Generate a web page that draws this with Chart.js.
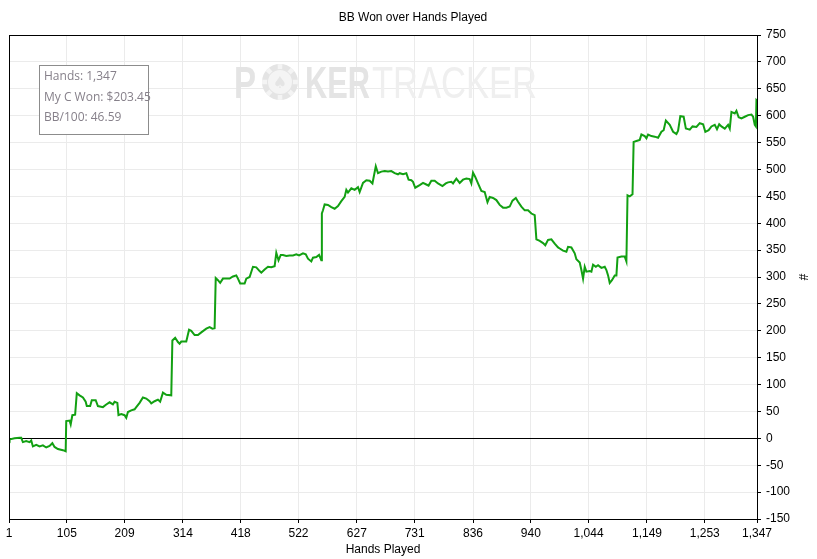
<!DOCTYPE html>
<html>
<head>
<meta charset="utf-8">
<title>BB Won over Hands Played</title>
<script src="https://cdn.jsdelivr.net/npm/chart.js@4/dist/chart.umd.min.js"></script>
<style>
  html, body { margin: 0; padding: 0; background: #fff; }
  #wrap { width: 817px; height: 559px; position: relative; }
</style>
</head>
<body>
<div id="wrap"><canvas id="graf"></canvas></div>
<script>
// manos jugadas (eje X) y BB ganadas acumuladas (eje Y)
const hands = [
  1, 2, 11, 20, 23, 26, 32, 38, 41, 44, 50, 56, 62, 68, 74, 79, 83, 89, 98, 103,
  104, 110, 112, 115, 120, 123, 128, 134, 139, 141, 147, 150, 157, 161, 170, 176, 182, 188, 191, 196,
  198, 203, 209, 212, 215, 221, 227, 230, 236, 242, 248, 254, 257, 263, 269, 273, 278, 284, 293, 295,
  300, 305, 308, 311, 320, 325, 329, 335, 341, 347, 356, 362, 367, 371, 373, 377, 381, 386, 392, 398,
  404, 410, 413, 417, 425, 428, 434, 440, 446, 452, 455, 461, 467, 473, 479, 482, 486, 490, 494, 500,
  506, 512, 518, 523, 530, 535, 539, 545, 548, 554, 559, 563, 564, 566, 569, 575, 581, 587, 593, 599,
  605, 608, 611, 617, 623, 629, 632, 638, 644, 650, 655, 661, 665, 671, 677, 683, 689, 695, 701, 704,
  710, 716, 720, 725, 728, 732, 740, 746, 752, 756, 761, 767, 773, 781, 787, 791, 797, 800, 806, 812,
  818, 824, 830, 833, 836, 840, 845, 851, 857, 862, 866, 872, 878, 884, 890, 896, 902, 907, 913, 917,
  923, 929, 935, 941, 947, 950, 956, 962, 966, 971, 977, 983, 989, 992, 998, 1004, 1007, 1013, 1019, 1022,
  1028, 1031, 1034, 1037, 1040, 1046, 1049, 1052, 1057, 1061, 1067, 1073, 1076, 1079, 1082, 1086, 1091, 1094, 1096, 1103,
  1109, 1112, 1114, 1118, 1123, 1125, 1130, 1136, 1139, 1145, 1148, 1151, 1157, 1163, 1169, 1175, 1179, 1183, 1190, 1196,
  1202, 1205, 1209, 1215, 1219, 1226, 1231, 1238, 1244, 1250, 1254, 1260, 1265, 1271, 1275, 1279, 1283, 1289, 1295, 1298,
  1301, 1307, 1310, 1314, 1319, 1325, 1331, 1337, 1340, 1343, 1345, 1346, 1347
];
const bbWon = [
  0, -2, 0, 1, 1, -7, -5, -7, -4, -15, -12, -15, -13, -17, -14, -9, -16, -20, -22, -24,
  32, 33, 26, 43, 44, 84, 80, 76, 68, 60, 60, 71, 71, 60, 58, 63, 67, 63, 68, 66,
  43, 45, 43, 38, 49, 52, 54, 58, 66, 76, 74, 69, 65, 69, 72, 68, 85, 81, 80, 182,
  187, 179, 176, 180, 180, 202, 200, 192, 192, 197, 204, 207, 204, 205, 298, 294, 289, 297, 297, 297,
  301, 303, 297, 288, 288, 297, 300, 319, 318, 311, 308, 314, 319, 318, 320, 345, 331, 341, 341, 339,
  340, 340, 342, 340, 344, 342, 334, 329, 336, 337, 341, 331, 418, 424, 435, 434, 430, 427, 432, 441,
  449, 462, 457, 465, 462, 467, 458, 475, 480, 479, 474, 506, 493, 496, 497, 496, 497, 493, 491, 493,
  491, 493, 481, 480, 477, 466, 471, 475, 472, 470, 479, 479, 474, 469, 474, 476, 477, 474, 483, 475,
  481, 483, 482, 474, 494, 486, 474, 460, 458, 439, 449, 447, 443, 434, 429, 429, 431, 442, 447, 440,
  431, 424, 424, 418, 415, 370, 367, 363, 359, 369, 370, 362, 355, 353, 349, 347, 356, 355, 344, 333,
  327, 313, 297, 319, 310, 311, 310, 323, 319, 322, 317, 319, 313, 303, 289, 294, 303, 303, 336, 338,
  338, 329, 452, 450, 454, 551, 553, 555, 565, 562, 558, 565, 562, 561, 559, 570, 573, 591, 583, 570,
  566, 572, 599, 598, 576, 574, 580, 579, 586, 584, 570, 573, 580, 583, 575, 584, 580, 576, 583, 576,
  607, 604, 609, 597, 595, 598, 601, 602, 598, 583, 580, 629, 628
];
const xTicks = [1, 105, 209, 314, 418, 522, 627, 731, 836, 940, 1044, 1149, 1253, 1347];
const yMin = -150, yMax = 750, yStep = 50;
const infoLines = ['Hands: 1,347', 'My C Won: $203.45', 'BB/100: 46.59'];

const puntos = hands.map(function(h, i) { return { x: h, y: bbWon[i] }; });
const fuente = "'Liberation Sans', Arial, sans-serif";

// marca de agua, borde del area y recuadro de info
const extras = {
  id: 'extras',
  beforeDatasetsDraw(chart) {
    const c = chart.ctx;
    c.save();
    c.textBaseline = 'alphabetic';
    const base = 98;
    function fitText(txt, x0, x1, weight, color) {
      c.font = weight + ' 44px ' + fuente;
      const w = c.measureText(txt).width;
      c.save();
      c.translate(x0, base);
      c.scale((x1 - x0) / w, 1);
      c.fillStyle = color;
      c.fillText(txt, 0, 0);
      c.restore();
    }
    fitText('P', 234, 256, 'bold', '#e4e4e4');
    // ficha de poker en lugar de la O
    const cx = 280, cy = 82, r = 18;
    c.fillStyle = '#e4e4e4';
    c.beginPath(); c.arc(cx, cy, r, 0, Math.PI * 2); c.fill();
    c.fillStyle = '#f4f4f4';
    for (let k = 0; k < 8; k++) {
      const a = k * Math.PI / 4;
      c.beginPath();
      c.arc(cx, cy, r, a - 0.13, a + 0.13);
      c.arc(cx, cy, r - 5, a + 0.17, a - 0.17, true);
      c.closePath(); c.fill();
    }
    c.beginPath(); c.arc(cx, cy, r - 6, 0, Math.PI * 2); c.fill();
    c.fillStyle = '#e4e4e4';
    c.font = '16px DejaVu Sans';
    c.textAlign = 'center';
    c.fillText('\u2660', cx, cy + 6);
    c.textAlign = 'left';
    fitText('KER', 305, 370, 'bold', '#e4e4e4');
    fitText('TRACKER', 372, 537, 'normal', '#efefef');
    c.restore();
  },
  afterDraw(chart) {
    const c = chart.ctx, a = chart.chartArea;
    c.save();
    c.strokeStyle = '#000';
    c.lineWidth = 1;
    c.strokeRect(Math.round(a.left) + 0.5, Math.round(a.top) + 0.5,
                 Math.round(a.right - a.left), Math.round(a.bottom - a.top));
    // recuadro de resumen
    c.fillStyle = '#fff';
    c.fillRect(39.5, 65.5, 109, 69);
    c.strokeStyle = '#8c8c8c';
    c.strokeRect(39.5, 65.5, 109, 69);
    c.fillStyle = '#86808a';
    c.font = "12px 'Open Sans', 'Noto Sans', sans-serif";
    c.textBaseline = 'middle';
    infoLines.forEach(function(t, i) { c.fillText(t, 44, 77 + i * 20.5); });
    c.restore();
  }
};

new Chart(document.getElementById('graf'), {
  type: 'line',
  data: {
    datasets: [{
      data: puntos,
      borderColor: '#12a012',
      borderWidth: 2,
      pointRadius: 0,
      tension: 0,
      fill: false
    }]
  },
  options: {
    responsive: true,
    maintainAspectRatio: false,
    animation: false,
    events: [],
    layout: { padding: { left: 9, right: 0, top: 0, bottom: 0 } },
    plugins: {
      legend: { display: false },
      tooltip: { enabled: false },
      title: {
        display: true,
        text: 'BB Won over Hands Played',
        color: '#000',
        font: { family: fuente, size: 12, weight: 'normal' },
        padding: { top: 10, bottom: 10.6 }
      }
    },
    scales: {
      x: {
        type: 'linear',
        min: 1,
        max: 1347,
        afterBuildTicks: function(s) { s.ticks = xTicks.map(function(v) { return { value: v }; }); },
        afterFit: function(s) { s.height = 40; },
        grid: { color: '#ebebeb', tickColor: '#000', tickLength: 4 },
        border: { color: '#000' },
        ticks: {
          color: '#000',
          maxRotation: 0,
          autoSkip: false,
          padding: 3,
          font: { family: fuente, size: 12 },
          callback: function(v) { return Number(v).toLocaleString('en-US'); }
        },
        title: {
          display: true,
          text: 'Hands Played',
          color: '#000',
          font: { family: fuente, size: 12 },
          padding: { top: 0, bottom: 2 }
        }
      },
      y: {
        position: 'right',
        min: yMin,
        max: yMax,
        afterFit: function(s) { s.width = 60; },
        grid: {
          color: function(ctx) { return ctx.tick && ctx.tick.value === 0 ? '#000' : '#ebebeb'; },
          tickColor: '#000',
          tickLength: 4
        },
        border: { color: '#000' },
        ticks: {
          stepSize: yStep,
          color: '#000',
          padding: 5,
          font: { family: fuente, size: 12 }
        },
        title: {
          display: true,
          text: '#',
          color: '#000',
          font: { family: fuente, size: 12 },
          padding: { top: 7, bottom: 4 }
        }
      }
    }
  },
  plugins: [extras]
});
</script>
</body>
</html>
